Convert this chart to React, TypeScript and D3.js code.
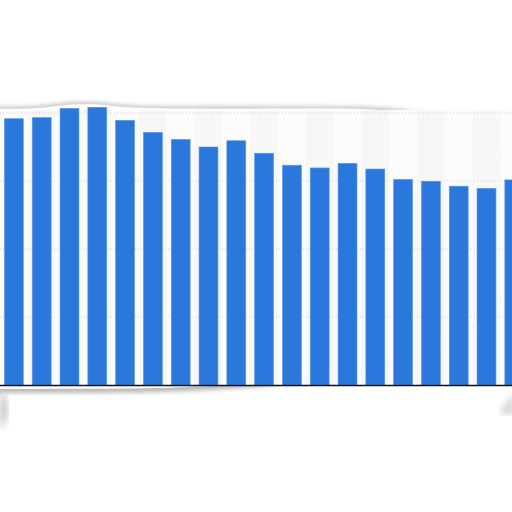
import React from 'react';
import * as d3 from 'd3';

// categories are not labelled in the picture; use their index
const categories = d3.range(19).map((i) => `c${i + 1}`);
const values = [97.9, 98.3, 101.7, 102.1, 97.3, 92.9, 90.3, 87.5, 89.8, 85.2, 80.8, 79.8, 81.5, 79.4, 75.6, 74.9, 73.1, 72.3, 75.4];
const gridTicks = [25, 50, 75, 100];

const W = 512;
const H = 512;
const baseY = 385;
const topY = 113;

export default function App() {
  const x = d3.scaleBand<string>()
    .domain(categories)
    .range([0, 27.8 * categories.length])
    .paddingInner(0.32)
    .paddingOuter(0.16);

  const y = d3.scaleLinear().domain([0, 100]).range([baseY, topY]);
  const step = x.step();

  // panel outline, with the small bump on the top edge
  const panelPath = d3.line<[number, number]>().curve(d3.curveBasis)([
    [-20, 109], [40, 109], [60, 105], [85, 104], [110, 105], [130, 109], [300, 108.5], [540, 108],
    [540, 388], [-20, 389],
  ]);

  return (
    <svg width={W} height={H} style={{ position: 'fixed', left: 0, top: 0, background: '#fff' }}>
      <defs>
        <filter id="blur" x="-10%" y="-10%" width="120%" height="130%">
          <feGaussianBlur stdDeviation="2" />
        </filter>
        <filter id="blur2">
          <feGaussianBlur stdDeviation="3.5" />
        </filter>
      </defs>

      {/* shadow of the panel */}
      <g filter="url(#blur)">
        <path d={panelPath ?? ''} fill="none" stroke="#bdbdbd" strokeWidth={4} />
        <path d={panelPath ?? ''} fill="#b8b8b8" transform="translate(0,4)" />
      </g>
      <path d="M0,392 C10,398 10,410 4,426 L0,426 Z" fill="#c8c8c8" filter="url(#blur2)" />
      <path d="M514,394 C508,400 503,406 500,414 L514,414 Z" fill="#d2d2d2" filter="url(#blur2)" />
      <rect x={506} y={112} width={10} height={24} fill="#d8d8d8" filter="url(#blur2)" />
      <path d={panelPath ?? ''} fill="#fff" />

      {/* alternating bands */}
      {categories.map((c, i) => (
        <rect
          key={`band-${c}`}
          x={(x(c) ?? 0) - step * 0.16}
          y={y(100) - 3}
          width={step}
          height={baseY - y(100) + 3}
          fill={i % 2 === 1 ? '#f7f7f7' : '#fcfcfc'}
        />
      ))}

      {/* gridlines */}
      {gridTicks.map((t) => (
        <line
          key={`grid-${t}`}
          x1={0}
          x2={W}
          y1={y(t)}
          y2={y(t)}
          stroke="#cfcfcf"
          strokeWidth={1}
          strokeDasharray="1,2"
        />
      ))}

      {/* bars */}
      {categories.map((c, i) => (
        <rect
          key={`bar-${c}`}
          x={x(c)}
          y={y(values[i])}
          width={x.bandwidth()}
          height={baseY - y(values[i])}
          fill="#2b78dc"
          stroke="#5a97e6"
          strokeWidth={0.6}
        />
      ))}

      {/* baseline */}
      <line x1={0} x2={W} y1={baseY + 0.5} y2={baseY + 0.5} stroke="#111" strokeWidth={1.4} />
    </svg>
  );
}
